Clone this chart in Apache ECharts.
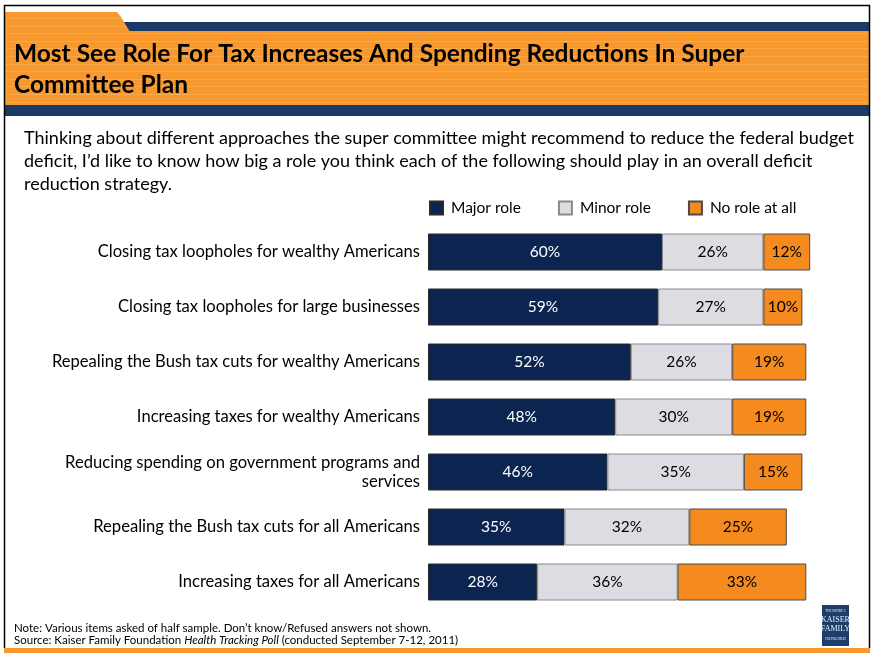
<!DOCTYPE html>
<html>
<head>
<meta charset="utf-8">
<script src="https://cdn.jsdelivr.net/npm/echarts@6/dist/echarts.min.js"></script>
<style>
  html, body { margin: 0; padding: 0; background: #ffffff; }
  #chart { width: 874px; height: 653px; }
</style>
</head>
<body>
<div id="chart"></div>
<script>
// Survey items (top to bottom)
const categories = [
  'Closing tax loopholes for wealthy Americans',
  'Closing tax loopholes for large businesses',
  'Repealing the Bush tax cuts for wealthy Americans',
  'Increasing taxes for wealthy Americans',
  'Reducing spending on government programs and\nservices',
  'Repealing the Bush tax cuts for all Americans',
  'Increasing taxes for all Americans'
];
// Share of respondents (%)
const majorRole = [60, 59, 52, 48, 46, 35, 28];
const minorRole = [26, 27, 26, 30, 35, 32, 36];
const noRole    = [12, 10, 19, 19, 15, 25, 33];
const seriesNames = ['Major role', 'Minor role', 'No role at all'];

const titleLines = [
  'Most See Role For Tax Increases And Spending Reductions In Super',
  'Committee Plan'
];
const questionLines = [
  'Thinking about different approaches the super committee might recommend to reduce the federal budget',
  'deficit, I\u2019d like to know how big a role you think each of the following should play in an overall deficit',
  'reduction strategy.'
];
const noteText = 'Note: Various items asked of half sample. Don\u2019t know/Refused answers not shown.';

const FONT = 'Lato, "Open Sans", sans-serif';
const NAVY_BAND = '#1b3a63';
const ORANGE = '#f7992f';

const chart = echarts.init(document.getElementById('chart'), null, { renderer: 'canvas' });

// Header decoration: bands, tab, faint stripes
const graphics = [];
graphics.push({ type: 'rect', shape: { x: 5, y: 22, width: 864, height: 10 }, style: { fill: NAVY_BAND }, z: 1 });
graphics.push({ type: 'rect', shape: { x: 5, y: 31, width: 864, height: 75 }, style: { fill: ORANGE }, z: 1 });
graphics.push({ type: 'polygon', shape: { points: [[5, 12], [117, 12], [121, 17], [130, 32], [5, 32]] }, style: { fill: ORANGE }, z: 2 });
for (let y = 18; y < 105; y += 7.6) {
  const x2 = y < 32 ? 118 + (y - 12) * 0.6 : 869;
  graphics.push({ type: 'rect', shape: { x: 5, y: Math.round(y), width: x2 - 5, height: 1 }, style: { fill: '#fbb660', opacity: 0.55 }, z: 3 });
}
graphics.push({ type: 'rect', shape: { x: 5, y: 105, width: 864, height: 11 }, style: { fill: NAVY_BAND }, z: 1 });
// Bottom orange rule
graphics.push({ type: 'rect', shape: { x: 4, y: 648, width: 866, height: 5 }, style: { fill: ORANGE }, z: 1 });
// Slide frame
graphics.push({ type: 'polyline', shape: { points: [[4.5, 648], [4.5, 5.5], [869.5, 5.5], [869.5, 648]] }, style: { stroke: '#000', lineWidth: 1.5, fill: null }, z: 4 });

// Title
titleLines.forEach((t, i) => {
  graphics.push({ type: 'text', x: 14, y: 54 + i * 31, z: 5,
    style: { text: t, font: 'bold 24.5px ' + FONT, fill: '#000', verticalAlign: 'middle' } });
});
// Question wording
questionLines.forEach((t, i) => {
  graphics.push({ type: 'text', x: 24, y: 138 + i * 23, z: 5,
    style: { text: t, font: '18px ' + FONT, fill: '#000', verticalAlign: 'middle' } });
});
// Footnotes
graphics.push({ type: 'text', x: 14, y: 628, z: 5,
  style: { text: noteText, font: '11.5px ' + FONT, fill: '#000', verticalAlign: 'middle' } });
graphics.push({ type: 'text', x: 14, y: 640, z: 5,
  style: {
    text: '{n|Source: Kaiser Family Foundation }{i|Health Tracking Poll}{n| (conducted September 7-12, 2011)}',
    verticalAlign: 'middle',
    rich: {
      n: { fontFamily: FONT, fontSize: 11.5, color: '#000' },
      i: { fontFamily: FONT, fontSize: 11.5, fontStyle: 'italic', color: '#000' }
    }
  } });
// Foundation logo
graphics.push({ type: 'rect', shape: { x: 822, y: 605, width: 27, height: 41 }, style: { fill: '#1d3d6b' }, z: 5 });
[
  ['THE HENRY J.', 611, 3.2],
  ['KAISER', 620, 8],
  ['FAMILY', 629, 8],
  ['FOUNDATION', 639, 3.2]
].forEach(([t, y, s]) => {
  graphics.push({ type: 'text', x: 835.5, y: y, z: 6,
    style: { text: t, font: s + 'px "Liberation Serif", serif', fill: '#e8eef7', align: 'center', verticalAlign: 'middle' } });
});

function barSeries(name, data, color, border, labelColor) {
  return {
    name: name,
    type: 'bar',
    stack: 'total',
    data: data,
    barWidth: 37,
    itemStyle: { color: color, borderColor: border, borderWidth: 1 },
    label: {
      show: true,
      position: 'inside',
      formatter: '{c}%',
      color: labelColor,
      fontFamily: FONT,
      fontSize: 15.5
    },
    emphasis: { disabled: true }
  };
}

chart.setOption({
  animation: false,
  textStyle: { fontFamily: FONT },
  legend: {
    data: seriesNames,
    left: 429,
    top: 200,
    padding: 0,
    itemWidth: 13,
    itemHeight: 13,
    itemGap: 37,
    icon: 'rect',
    textStyle: { fontFamily: FONT, fontSize: 15.5, color: '#000', padding: [0, 0, 0, 3] },
    selectedMode: false
  },
  grid: { left: 428, top: 224.5, width: 390, height: 385, containLabel: false },
  xAxis: { type: 'value', min: 0, max: 100, show: false },
  yAxis: {
    type: 'category',
    data: categories,
    inverse: true,
    axisLine: { show: false },
    axisTick: { show: false },
    axisLabel: {
      margin: 8,
      fontFamily: FONT,
      fontSize: 16.6,
      color: '#000',
      align: 'right',
      lineHeight: 19
    }
  },
  series: [
    barSeries(seriesNames[0], majorRole, '#0b2550', '#2a2a2a', '#ffffff'),
    barSeries(seriesNames[1], minorRole, '#dcdce2', '#8a8a8a', '#000000'),
    barSeries(seriesNames[2], noRole, '#f58a1f', '#4a4a4a', '#000000')
  ],
  graphic: graphics
});
</script>
</body>
</html>
